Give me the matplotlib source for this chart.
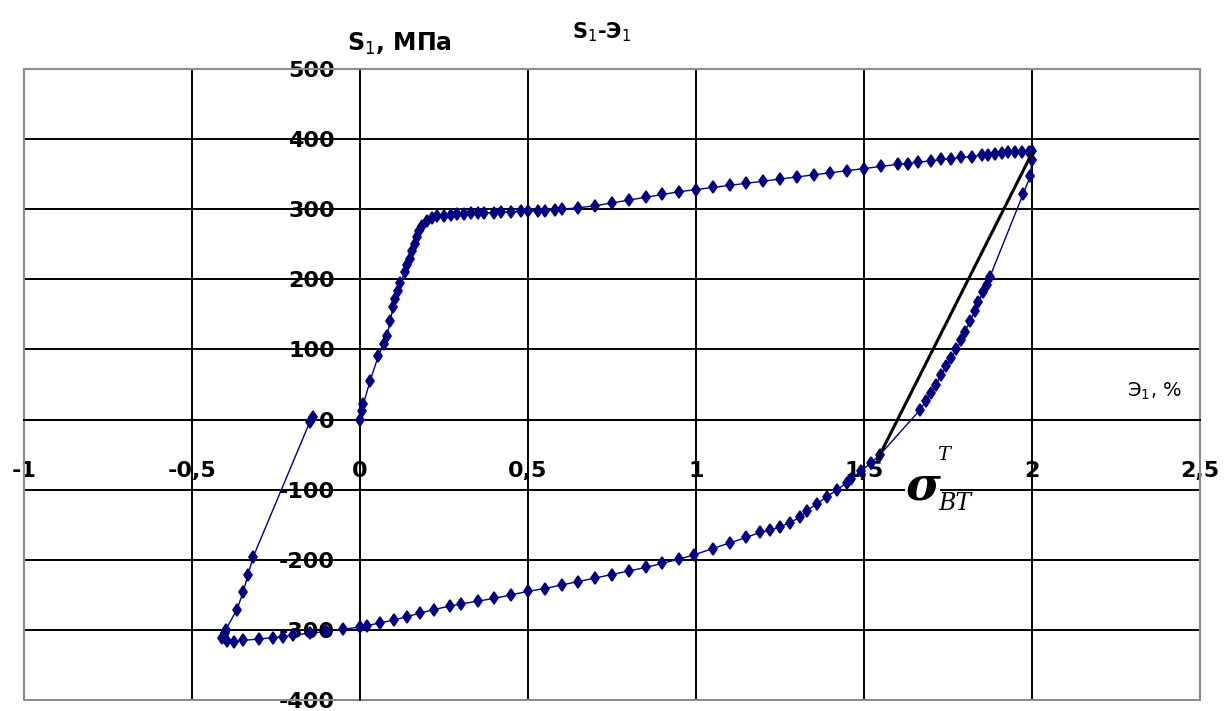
import matplotlib.pyplot as plt

# S1-Э1 loop, (strain %, stress MPa) read point by point
loading = [(0.0, 0), (0.005, 12), (0.01, 22), (0.03, 55), (0.054, 90), (0.07, 108),
           (0.08, 119), (0.09, 140), (0.098, 160), (0.105, 172), (0.113, 183),
           (0.12, 195), (0.134, 210), (0.14, 220), (0.149, 229), (0.156, 240),
           (0.164, 250), (0.17, 260), (0.175, 269), (0.185, 276), (0.2, 283),
           (0.215, 287), (0.23, 290), (0.25, 291), (0.27, 292), (0.29, 293),
           (0.31, 293), (0.33, 294), (0.35, 294), (0.37, 295), (0.4, 295), (0.42, 296),
           (0.45, 296), (0.48, 297), (0.5, 297), (0.53, 298), (0.55, 298), (0.58, 299),
           (0.6, 300), (0.65, 302), (0.7, 305), (0.75, 309), (0.8, 313), (0.85, 317),
           (0.9, 321), (0.95, 325), (1.0, 328), (1.05, 331), (1.1, 334), (1.15, 337),
           (1.2, 340), (1.25, 343), (1.3, 346), (1.35, 349), (1.4, 352), (1.45, 355),
           (1.5, 358), (1.55, 361), (1.6, 364), (1.63, 365), (1.66, 367), (1.7, 369),
           (1.73, 371), (1.76, 372), (1.79, 374), (1.82, 375), (1.85, 377), (1.87, 378),
           (1.89, 379), (1.91, 380), (1.93, 381), (1.95, 381), (1.97, 382), (1.99, 382),
           (2.0, 383)]
unloading = [(2.0, 370), (1.995, 347), (1.973, 321), (1.875, 204), (1.865, 192),
             (1.855, 182), (1.84, 168), (1.83, 155), (1.815, 140), (1.8, 125),
             (1.79, 113), (1.775, 100), (1.76, 88), (1.745, 76), (1.73, 64),
             (1.715, 50), (1.7, 38), (1.685, 27), (1.667, 14)]
compression = [(1.548, -50), (1.52, -62), (1.49, -74), (1.46, -85), (1.449, -90),
               (1.42, -100), (1.39, -110), (1.36, -120), (1.33, -130), (1.31, -139),
               (1.28, -147), (1.25, -153), (1.22, -158), (1.19, -161), (1.15, -168),
               (1.1, -176), (1.05, -184), (0.994, -193), (0.95, -199), (0.9, -205),
               (0.85, -211), (0.8, -216), (0.75, -221), (0.7, -226), (0.65, -231),
               (0.6, -236), (0.55, -241), (0.5, -245), (0.45, -250), (0.4, -255),
               (0.35, -259), (0.3, -263), (0.268, -266), (0.22, -271), (0.18, -276),
               (0.14, -281), (0.1, -286), (0.06, -290), (0.02, -294), (0.0, -296),
               (-0.05, -299), (-0.1, -302), (-0.15, -305), (-0.2, -307), (-0.229, -310),
               (-0.26, -311), (-0.3, -313), (-0.348, -315), (-0.375, -317),
               (-0.396, -316), (-0.41, -311), (-0.402, -305), (-0.4, -300)]
reloading = [(-0.366, -271), (-0.348, -246), (-0.333, -221), (-0.318, -196),
             (-0.149, -3), (-0.14, 3)]

# straight unloading line
chord_x = [1.54, 2.0]
chord_y = [-57, 380]

x_ticks = [-1, -0.5, 0, 0.5, 1, 1.5, 2, 2.5]
x_labels = ["-1", "-0,5", "0", "0,5", "1", "1,5", "2", "2,5"]
y_ticks = [-400, -300, -200, -100, 0, 100, 200, 300, 400, 500]
y_labels = ["-400", "-300", "-200", "-100", "0", "100", "200", "300", "400", "500"]

points = loading + unloading + compression + reloading
strain = [p[0] for p in points]
stress = [p[1] for p in points]

fig = plt.figure(figsize=(12.26, 7.11), dpi=100)
ax = fig.add_axes([24 / 1226, 1 - 700 / 711, 1176 / 1226, 631 / 711])

ax.set_xlim(-1, 2.5)
ax.set_ylim(-400, 500)

ax.grid(True, color="black", linewidth=1.4)
ax.set_axisbelow(True)

for side in ["top", "right"]:
    ax.spines[side].set_color("#8c8c8c")
    ax.spines[side].set_linewidth(1.5)
ax.spines["left"].set_position(("data", 0))
ax.spines["bottom"].set_position(("data", 0))
ax.spines["left"].set_linewidth(1.4)
ax.spines["bottom"].set_linewidth(1.4)
# outer frame on left and bottom
ax.plot([-1, -1, 2.5], [500, -400, -400], color="#8c8c8c", linewidth=1.5,
        clip_on=False, zorder=1)

ax.set_xticks(x_ticks, x_labels)
ax.set_yticks(y_ticks, y_labels)
ax.tick_params(axis="x", direction="out", length=7, width=1.2, pad=23)
ax.tick_params(axis="y", direction="out", length=7, width=1.2, pad=11)
for lbl in ax.get_xticklabels() + ax.get_yticklabels():
    lbl.set_fontsize(16)
    lbl.set_fontweight("bold")

ax.plot(strain, stress, color="#000080", linewidth=1, marker="d", markersize=6,
        markeredgewidth=1.2, zorder=3)
ax.plot(chord_x, chord_y, color="black", linewidth=2.2, zorder=4)

ax.text(-0.039, 536, "S$_1$, МПа", fontsize=17, fontweight="bold", ha="left",
        va="center", clip_on=False)
ax.text(0.72, 553, "S$_1$-Э$_1$", fontsize=15, fontweight="bold", ha="center",
        va="center", clip_on=False)
ax.text(2.446, 40, "Э$_1$, %", fontsize=14, ha="right", va="center")

# sigma_BT^T label next to the chord foot
ax.text(1.675, -96, "σ", fontsize=34, fontweight="bold", style="italic",
        family="DejaVu Serif", ha="center", va="center",
        bbox=dict(facecolor="white", edgecolor="none", pad=0), zorder=5)
ax.text(1.72, -120, "BT", fontsize=17, style="italic", family="DejaVu Serif",
        ha="left", va="center", zorder=7)
ax.text(1.737, -50, "T", fontsize=14, style="italic", family="DejaVu Serif",
        ha="center", va="center", zorder=7)

fig.savefig("out.png", dpi=100)
